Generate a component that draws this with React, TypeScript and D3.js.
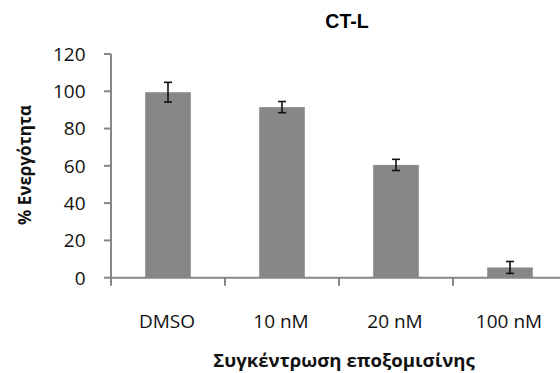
import React from "react";
import * as d3 from "d3";

const categories = ["DMSO", "10 nM", "20 nM", "100 nM"];
const values = [99.5, 91.5, 60.5, 5.5];
const errors = [5.3, 3.0, 3.0, 3.2];
const yTicks = [0, 20, 40, 60, 80, 100, 120];

const W = 560;
const H = 373;

export default function App() {
  const x = d3
    .scaleBand<string>()
    .domain(categories)
    .range([111, 567])
    .paddingInner(0.6)
    .paddingOuter(0.3);
  const y = d3.scaleLinear().domain([0, 120]).range([277.7, 54]);
  const step = x.step();
  const x0 = 111;
  const gray = "#878787";
  const font = "'Open Sans', sans-serif";
  const boundaries = categories.map((_, i) => x0 + i * step);

  return (
    <svg
      width={W}
      height={H}
      style={{ position: "absolute", left: 0, top: 0, background: "#fff" }}
    >
      <rect width={W} height={H} fill="#fff" />
      <text
        x={347}
        y={27.7}
        textAnchor="middle"
        fontFamily="'Liberation Sans', Arial, sans-serif"
        fontWeight="bold"
        fontSize={19.5}
        fill="#000"
      >
        CT-L
      </text>
      {categories.map((c, i) => {
        const bx = x(c)!;
        const bw = x.bandwidth();
        const cx = bx + bw / 2;
        return (
          <g key={c}>
            <rect
              x={bx}
              y={y(values[i])}
              width={bw}
              height={y(0) - y(values[i])}
              fill={gray}
            />
            <g stroke="#111" strokeWidth={1.6}>
              <line x1={cx} x2={cx} y1={y(values[i] + errors[i])} y2={y(values[i] - errors[i])} />
              <line x1={cx - 4} x2={cx + 4} y1={y(values[i] + errors[i])} y2={y(values[i] + errors[i])} />
              <line x1={cx - 4} x2={cx + 4} y1={y(values[i] - errors[i])} y2={y(values[i] - errors[i])} />
            </g>
          </g>
        );
      })}
      {/* y axis */}
      <line x1={x0} x2={x0} y1={y(120)} y2={y(0) + 1} stroke={gray} strokeWidth={2} />
      {yTicks.map((t) => (
        <g key={t}>
          <line x1={x0 - 7} x2={x0} y1={y(t)} y2={y(t)} stroke={gray} strokeWidth={2} />
          <text
            x={85.5}
            y={y(t)}
            dy="0.36em"
            textAnchor="end"
            fontFamily={font}
            fontSize={19}
            fill="#111"
          >
            {t}
          </text>
        </g>
      ))}
      {/* x axis */}
      <line x1={x0 - 1} x2={567} y1={y(0)} y2={y(0)} stroke={gray} strokeWidth={2} />
      {boundaries.map((b, i) => (
        <line key={i} x1={b} x2={b} y1={y(0)} y2={y(0) + 8} stroke={gray} strokeWidth={2} />
      ))}
      {categories.map((c) => (
        <text
          key={c}
          x={x(c)! + x.bandwidth() / 2 - 1}
          y={327.5}
          textAnchor="middle"
          fontFamily={font}
          fontSize={19}
          fill="#111"
        >
          {c}
        </text>
      ))}
      <text
        x={344}
        y={366.5}
        textAnchor="middle"
        fontFamily={font}
        fontWeight="bold"
        fontSize={18.6}
        fill="#111"
      >
        Συγκέντρωση εποξομισίνης
      </text>
      <text
        transform="translate(31,165) rotate(-90)"
        textAnchor="middle"
        fontFamily={font}
        fontWeight="bold"
        fontSize={17}
        fill="#111"
      >
        % Ενεργότητα
      </text>
    </svg>
  );
}
